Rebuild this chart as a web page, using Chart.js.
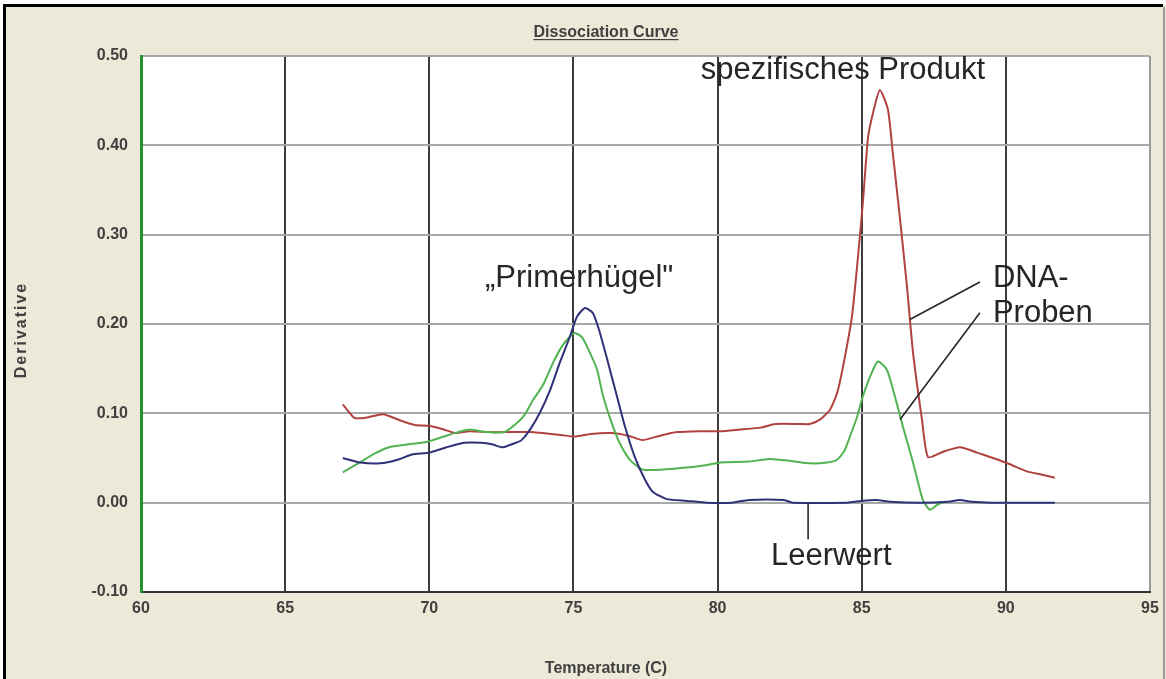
<!DOCTYPE html>
<html><head><meta charset="utf-8">
<script src="https://cdn.jsdelivr.net/npm/chart.js@4.4.1/dist/chart.umd.min.js"></script>
<style>html,body{margin:0;padding:0;background:#fff;overflow:hidden}canvas{display:block}</style>
</head><body>
<canvas id="c" width="1166" height="679"></canvas>
<script>
// ---- data ----
const chartTitle = "Dissociation Curve";
const xAxisTitle = "Temperature (C)";
const yAxisTitle = "Derivative";
const xTickValues = [60, 65, 70, 75, 80, 85, 90, 95];
const yTickValues = [-0.10, 0.00, 0.10, 0.20, 0.30, 0.40, 0.50];

const redTemps  = [67.0,67.4,67.8,68.4,69.0,69.5,70.0,70.5,70.9,71.4,72.1,72.8,73.5,74.5,75.05,75.6,76.3,76.9,77.4,78.0,78.6,79.4,80.1,80.8,81.5,82.0,82.9,83.2,83.55,83.9,84.15,84.35,84.66,84.87,85.04,85.22,85.39,85.63,85.91,86.08,86.33,86.57,86.78,87.09,87.3,87.82,88.41,89.0,89.55,90.14,90.73,91.29,91.7];
const redValues = [0.110,0.095,0.095,0.099,0.092,0.087,0.086,0.082,0.078,0.080,0.079,0.079,0.079,0.076,0.074,0.077,0.078,0.075,0.070,0.075,0.079,0.080,0.080,0.082,0.084,0.088,0.088,0.088,0.093,0.104,0.123,0.152,0.208,0.275,0.336,0.409,0.436,0.462,0.440,0.391,0.317,0.242,0.168,0.093,0.051,0.057,0.062,0.056,0.050,0.043,0.035,0.031,0.028];

const greenTemps  = [67.0,67.6,68.05,68.6,69.2,69.9,70.5,71.0,71.4,72.0,72.6,73.0,73.3,73.6,73.95,74.3,74.6,74.88,75.05,75.3,75.57,75.82,76.03,76.33,76.6,76.96,77.4,78.1,78.8,79.6,80.1,81.1,81.8,82.5,83.2,83.8,84.14,84.4,84.59,84.83,85.0,85.29,85.56,85.87,86.15,86.43,86.78,87.12,87.37,87.64,87.9];
const greenValues = [0.034,0.045,0.054,0.062,0.065,0.068,0.074,0.079,0.082,0.079,0.079,0.088,0.098,0.115,0.132,0.157,0.175,0.186,0.190,0.185,0.168,0.149,0.119,0.089,0.067,0.048,0.037,0.037,0.039,0.042,0.045,0.046,0.049,0.047,0.044,0.045,0.048,0.058,0.074,0.095,0.115,0.141,0.158,0.149,0.119,0.085,0.045,0.003,-0.008,-0.002,0.001];

const blueTemps  = [67.0,67.6,68.3,68.9,69.4,70.0,70.6,71.2,71.8,72.2,72.55,73.0,73.2,73.5,73.84,74.19,74.53,74.88,75.12,75.4,75.68,75.92,76.2,76.51,76.79,77.13,77.48,77.76,78.24,78.94,79.63,80.5,81.1,82.3,82.6,84.5,85.0,85.5,86.0,87.0,88.0,88.4,88.8,89.5,91.7];
const blueValues = [0.050,0.045,0.044,0.048,0.054,0.056,0.062,0.067,0.067,0.065,0.062,0.067,0.070,0.082,0.101,0.126,0.157,0.186,0.208,0.218,0.212,0.190,0.157,0.119,0.085,0.051,0.026,0.012,0.004,0.002,0.000,0.000,0.003,0.003,0.000,0.000,0.002,0.003,0.001,0.000,0.001,0.003,0.001,0.000,0.000];

const labelTexts = ["spezifisches Produkt", "\u201EPrimerh\u00FCgel\"", "DNA-", "Proben", "Leerwert"];

// ---- annotation placement (data coordinates) ----
const annotations = [
  {text: labelTexts[0], x: 79.42, y: 0.474},
  {text: labelTexts[1], x: 71.93, y: 0.2416},
  {text: labelTexts[2], x: 89.55, y: 0.2416},
  {text: labelTexts[3], x: 89.55, y: 0.2025},
  {text: labelTexts[4], x: 81.85, y: -0.070}
];
const leaders = [
  [[89.10, 0.247], [86.67, 0.205]],
  [[89.10, 0.2125], [86.33, 0.093]],
  [[83.14, 0.0], [83.14, -0.041]]
];

const zip = (xs, ys) => xs.map((x, i) => ({x, y: ys[i]}));

const decor = {
  id: 'decor',
  beforeDraw(chart) {
    const c = chart.ctx, a = chart.chartArea, W = chart.width, H = chart.height;
    c.save();
    c.fillStyle = '#ffffff'; c.fillRect(0, 0, W, H);
    c.fillStyle = '#ECE9D8'; c.fillRect(4, 5, W - 4, H - 5);
    c.fillStyle = '#000000';
    c.fillRect(3, 4, W - 6, 3);
    c.fillRect(3, 4, 3, H - 4);
    c.fillStyle = '#9a9a9a'; c.fillRect(W - 3, 7, 2, H - 7);
    c.fillStyle = '#ffffff'; c.fillRect(a.left, a.top, a.right - a.left, a.bottom - a.top);
    c.restore();
  },
  afterDraw(chart) {
    const c = chart.ctx, xs = chart.scales.x, ys = chart.scales.y;
    c.save();
    // title
    c.font = 'bold 16px "Liberation Sans", Arial, sans-serif';
    c.fillStyle = '#404040';
    c.textAlign = 'center'; c.textBaseline = 'alphabetic';
    c.fillText(chartTitle, 606, 37);
    const tw = c.measureText(chartTitle).width;
    c.fillRect(606 - tw / 2, 39, tw, 1.2);
    // x title
    c.fillText(xAxisTitle, 606, 673);
    // y title
    c.save();
    c.translate(26, 330); c.rotate(-Math.PI / 2);
    c.letterSpacing = '2px';
    c.fillText(yAxisTitle, 0, 0);
    c.restore();
    // annotations
    c.font = '31px "Liberation Sans", Arial, sans-serif';
    c.fillStyle = '#262626';
    c.textAlign = 'left';
    annotations.forEach(an => {
      c.fillText(an.text, xs.getPixelForValue(an.x), ys.getPixelForValue(an.y));
    });
    c.strokeStyle = '#262626'; c.lineWidth = 1.6;
    leaders.forEach(l => {
      c.beginPath();
      c.moveTo(xs.getPixelForValue(l[0][0]), ys.getPixelForValue(l[0][1]));
      c.lineTo(xs.getPixelForValue(l[1][0]), ys.getPixelForValue(l[1][1]));
      c.stroke();
    });
    c.restore();
  }
};

const tickFont = {family: '"Liberation Sans", Arial, sans-serif', size: 16, weight: 'bold'};

new Chart(document.getElementById('c'), {
  type: 'line',
  data: {
    datasets: [
      {label: 'Leerwert', data: zip(blueTemps, blueValues), borderColor: '#2f3078'},
      {label: 'DNA-Probe 2', data: zip(greenTemps, greenValues), borderColor: '#52b352'},
      {label: 'DNA-Probe 1', data: zip(redTemps, redValues), borderColor: '#b0423f'}
    ]
  },
  options: {
    responsive: false,
    animation: false,
    devicePixelRatio: 1,
    layout: {padding: {left: 0, top: 56, right: 16, bottom: 0}},
    elements: {point: {radius: 0}, line: {borderWidth: 2, tension: 0.2}},
    plugins: {legend: {display: false}, tooltip: {enabled: false}, title: {display: false}},
    scales: {
      x: {
        type: 'linear', min: xTickValues[0], max: xTickValues[xTickValues.length - 1],
        afterBuildTicks: s => { s.ticks = xTickValues.map(v => ({value: v})); },
        afterFit: s => { s.height = 87; },
        ticks: {font: tickFont, color: '#404040', padding: 7, maxRotation: 0},
        grid: {
          drawTicks: false, lineWidth: 2,
          color: ctx => ctx.tick.value === 60 ? 'rgba(0,0,0,0)' : (ctx.tick.value === 95 ? '#9a9a9a' : '#3c3c3c')
        },
        border: {color: '#333333', width: 2}
      },
      y: {
        min: yTickValues[0], max: yTickValues[yTickValues.length - 1],
        afterBuildTicks: s => { s.ticks = yTickValues.map(v => ({value: v})); },
        afterFit: s => { s.width = 141; },
        ticks: {font: tickFont, color: '#404040', padding: 13, callback: v => (Math.abs(v) < 1e-9 ? 0 : v).toFixed(2)},
        grid: {
          drawTicks: false, lineWidth: 2,
          color: ctx => ctx.tick.value === -0.1 ? 'rgba(0,0,0,0)' : '#a8a8a8'
        },
        border: {color: '#22922e', width: 3}
      }
    }
  },
  plugins: [decor]
});
</script>
</body></html>
